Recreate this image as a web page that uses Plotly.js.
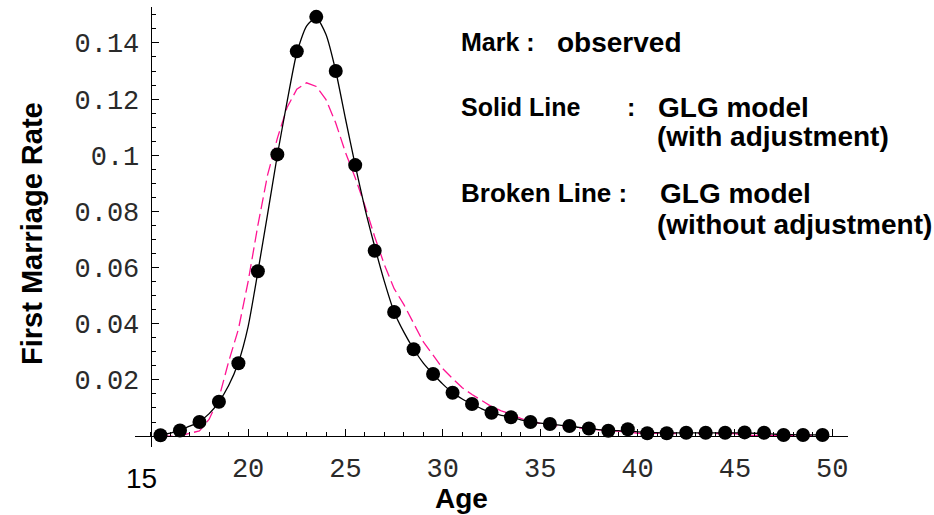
<!DOCTYPE html>
<html>
<head>
<meta charset="utf-8">
<script src="https://cdn.plot.ly/plotly-3.0.1.min.js"></script>
<style>html,body{margin:0;padding:0;background:#fff;}#chart{width:934px;height:515px;}</style>
</head>
<body>
<div id="chart"></div>
<script>
// Observed first marriage rates (marks)
var ageObs = [15.5,16.5,17.5,18.5,19.5,20.5,21.5,22.5,23.5,24.5,25.5,26.5,27.5,28.5,29.5,30.5,31.5,32.5,33.5,34.5,35.5,36.5,37.5,38.5,39.5,40.5,41.5,42.5,43.5,44.5,45.5,46.5,47.5,48.5,49.5];
var rateObs = [0.0003,0.0020,0.0050,0.0122,0.0259,0.0587,0.1003,0.1370,0.1493,0.1300,0.0965,0.0660,0.0442,0.0309,0.0221,0.0154,0.0114,0.0083,0.0067,0.0050,0.0043,0.0036,0.0027,0.0019,0.0024,0.0010,0.0010,0.0012,0.0012,0.0012,0.0013,0.0012,0.0004,0.0004,0.0004];

// Model curves
var ageFit = [15.5,16,16.5,17,17.5,18,18.5,19,19.5,20,20.5,21,21.5,22,22.5,23,23.5,24,24.5,25,25.5,26,26.5,27,27.5,28,28.5,29,29.5,30,30.5,31,31.5,32,32.5,33,33.5,34,34.5,35,35.5,36,36.5,37,37.5,38,38.5,39,39.5,40,40.5,41,41.5,42,42.5,43,43.5,44,44.5,45,45.5,46,46.5,47,47.5,48,48.5,49,49.5];
// GLG model with adjustment (solid)
var rateSolid = [0.0003,0.0010,0.0022,0.0035,0.0052,0.0080,0.0122,0.0180,0.0262,0.0390,0.0585,0.0790,0.1000,0.1190,0.1365,0.1460,0.1490,0.1430,0.1300,0.1130,0.0965,0.0810,0.0675,0.0550,0.0442,0.0370,0.0310,0.0260,0.0221,0.0185,0.0154,0.0132,0.0114,0.0097,0.0083,0.0074,0.0067,0.0058,0.0050,0.0046,0.0043,0.0039,0.0036,0.0031,0.0027,0.0023,0.0020,0.0019,0.0018,0.0015,0.0013,0.0012,0.0011,0.0011,0.0011,0.0011,0.0011,0.0011,0.0011,0.0011,0.0011,0.0010,0.0009,0.0007,0.0005,0.0005,0.0004,0.0004,0.0004];
// GLG model without adjustment (broken)
var rateBroken = [0.0000,0.0000,0.0000,0.0010,0.0018,0.0060,0.0135,0.0265,0.0380,0.0550,0.0750,0.0930,0.1060,0.1170,0.1235,0.1258,0.1245,0.1198,0.1115,0.1010,0.0920,0.0820,0.0710,0.0610,0.0525,0.0468,0.0400,0.0335,0.0288,0.0240,0.0205,0.0172,0.0148,0.0125,0.0105,0.0090,0.0078,0.0063,0.0051,0.0045,0.0040,0.0034,0.0030,0.0028,0.0027,0.0022,0.0020,0.0019,0.0015,0.0010,0.0009,0.0009,0.0009,0.0009,0.0009,0.0009,0.0009,0.0009,0.0009,0.0009,0.0002,0.0002,0.0002,0.0002,0.0002,0.0002,0.0002,0.0002,0.0002];

var xTickVals = [20,25,30,35,40,45,50];
var xTickText = ['20','25','30','35','40','45','50'];
var yTickVals = [0.02,0.04,0.06,0.08,0.10,0.12,0.14];
var yTickText = ['0.02','0.04','0.06','0.08','0.1','0.12','0.14'];

var traces = [
  {x: ageFit, y: rateBroken, mode: 'lines', line: {color: '#ff1493', width: 1.3, dash: '12px,5px'}, hoverinfo: 'skip'},
  {x: ageFit, y: rateSolid, mode: 'lines', line: {color: '#000', width: 1.3, shape: 'spline', smoothing: 0.6}, hoverinfo: 'skip'},
  {x: ageObs, y: rateObs, mode: 'markers', marker: {color: '#000', size: 14}, hoverinfo: 'skip'}
];

var L = 135, R = 848, T = 7, B = 447;
function px(x){ return (x - L) / (R - L); }
function py(y){ return (B - y) / (B - T); }

function lbl(text, x, y, size){
  return {text: '<b>' + text + '</b>', xref: 'paper', yref: 'paper', x: px(x), y: py(y), xanchor: 'left', yanchor: 'middle', showarrow: false,
          font: {family: 'Liberation Sans, Arial, sans-serif', size: size, color: '#000'}};
}

var tickFont = {family: 'Liberation Mono, monospace', size: 27, color: '#2a2a2a'};

var layout = {
  width: 934, height: 515,
  margin: {l: L, r: 934 - R, t: T, b: 515 - B, pad: 0},
  paper_bgcolor: '#fff', plot_bgcolor: '#fff',
  showlegend: false,
  xaxis: {
    range: [14.19, 50.81], anchor: 'free', position: py(436),
    showgrid: false, zeroline: false, showline: true, linecolor: '#000', linewidth: 1.3,
    tickmode: 'array', tickvals: xTickVals, ticktext: xTickText,
    ticks: 'inside', ticklen: 7, tickwidth: 1, tickcolor: '#000',
    minor: {tickmode: 'linear', tick0: 15, dtick: 1, ticks: 'inside', ticklen: 4, tickwidth: 1, tickcolor: '#000'},
    tickfont: tickFont,
    ticklabelstandoff: 7
  },
  yaxis: {
    range: [-0.0039, 0.1528], anchor: 'free', position: px(150.7),
    showgrid: false, zeroline: false, showline: true, linecolor: '#000', linewidth: 1.3,
    tickmode: 'array', tickvals: yTickVals, ticktext: yTickText,
    ticks: 'inside', ticklen: 7, tickwidth: 1, tickcolor: '#000',
    minor: {tickmode: 'linear', tick0: 0, dtick: 0.005, ticks: 'inside', ticklen: 4, tickwidth: 1, tickcolor: '#000'},
    tickfont: tickFont,
    ticklabelstandoff: 6
  },
  annotations: [
    {text: '<b>First Marriage Rate</b>', xref: 'paper', yref: 'paper', x: px(32), y: py(234), textangle: -90, showarrow: false, xanchor: 'center', yanchor: 'middle', font: {family: 'Liberation Sans, Arial, sans-serif', size: 29, color: '#000'}},
    {text: '<b>Age</b>', xref: 'paper', yref: 'paper', x: px(461), y: py(498), showarrow: false, xanchor: 'center', yanchor: 'middle', font: {family: 'Liberation Sans, Arial, sans-serif', size: 28, color: '#000'}},
    {text: '15', xref: 'paper', yref: 'paper', x: px(141), y: py(478), showarrow: false, xanchor: 'center', yanchor: 'middle', font: {family: 'Liberation Sans, Arial, sans-serif', size: 28, color: '#000'}},
    lbl('Mark :', 459, 42, 25),
    lbl('observed', 555, 42, 28),
    lbl('Solid Line', 459, 107, 25),
    lbl(':', 625, 107, 25),
    lbl('GLG model', 656, 107, 28),
    lbl('(with adjustment)', 655, 137, 28),
    lbl('Broken Line :', 459, 193, 26),
    lbl('GLG model', 658, 193, 28),
    lbl('(without adjustment)', 655, 224, 28)
  ]
};

Plotly.newPlot('chart', traces, layout, {displayModeBar: false, staticPlot: true});
</script>
</body>
</html>
